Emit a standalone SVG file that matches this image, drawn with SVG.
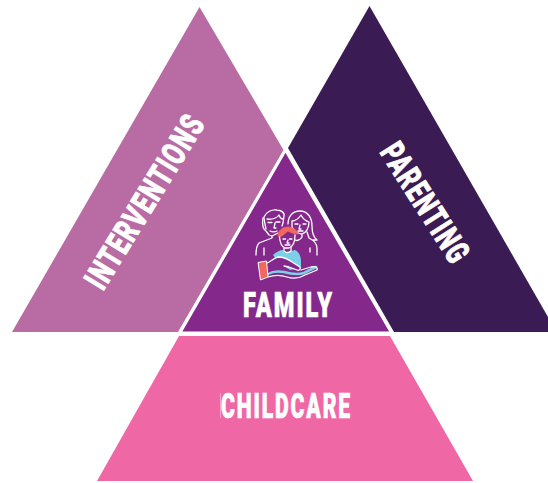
<svg xmlns="http://www.w3.org/2000/svg" width="548" height="483" viewBox="0 0 548 483">
<style>
.lab{font-family:"Roboto","Liberation Sans",Arial,sans-serif;font-weight:900;fill:#fff;stroke:#fff;stroke-width:.7}
.ic{fill:none;stroke:#fff;stroke-width:1.3;stroke-linecap:round;stroke-linejoin:round}
</style>
<rect width="548" height="483" fill="#fff"/>
<g id="connectors"/>
<g id="interventions">
<polygon points="199.500,7 12,332 178,332 283.500,150" fill="#b86ca3"/>
<text class="lab" transform="translate(103,292) rotate(-58.500)" font-size="34" letter-spacing="2" textLength="198" lengthAdjust="spacingAndGlyphs">INTERVENTIONS</text>
</g>
<g id="parenting">
<polygon points="369.500,6 288,148 394,332 548,332 548,317" fill="#3b1b54"/>
<text class="lab" transform="translate(379,152) rotate(57.500)" font-size="34" letter-spacing="2" textLength="136" lengthAdjust="spacingAndGlyphs">PARENTING</text>
</g>
<g id="childcare">
<polygon points="179,336 390,336 473,481 97,481" fill="#f067a6"/>
<path d="M220.500 393V418" stroke="#fff" stroke-opacity=".7" stroke-width=".6" fill="none"/>
<text class="lab" x="221" y="418" font-size="35" letter-spacing="3" textLength="131" lengthAdjust="spacingAndGlyphs">CHILDCARE</text>
</g>
<g id="family">
<polygon points="285.500,150 180,332.800 391.500,332.800" fill="#85288c" stroke="#fff" stroke-width="2.800"/>
<g id="family-icon">
<path d="M273 255C276 252 280 250 283 250L286 252L291 251L295 250C299 252 301 256 301 262L301 268L290 270L278 262Z" fill="#7bd0e8"/>
<path d="M263 218C262 224 263 229 266 231L269 235L272 236V238L259 243C257 245 256 250 256 255M264 248V255" class="ic"/>
<path d="M266 229C265 224 264 220 264 217C266 212 272 209 277 210C281 210 285 213 284 216L283 223L282 226M267 219C272 220 277 218 279 215C280 218 282 219 283 219M268 222.500H272M276 222H280M275 223L274 228H276M270 231C272 232 275 232 277 231M272 236C274 235 276 234 278 233" class="ic"/>
<path d="M288 224C288 216 293 211 300 211C308 211 312 218 312 226C312 232 313 237 317 240L313 240M292 221C295 221 299 218 301 215C303 219 306 221 309 222C309 228 306 233 302 234C298 234 294 230 292 227V221ZM295 224H298M303 224H306M300 225L299 229H301M298 231H303M302 234V237C300 240 297 241 295 240M307 232L309 238C313 240 317 243 317 248V255M310 248V252" class="ic"/>
<path d="M278 236C278 231 282 227 288 227C293 227 297 230 298 234C294 234 290 232 288 231C285 233 283 236 279.500 237Z" fill="#f0695e" stroke="#f0695e" stroke-width=".8"/>
<path d="M279.500 237C280 243 282 247 285 248H289C292 247 295 243 295 235M283 239H285.500M289.500 239H292M288 240L287 243H289M285 245H290M284 248V251C286 253 289 253 291 251V247" class="ic"/>
<path d="M267 263C270 262 274 258 278 257C283 257 288 259 292 262L300 267C301 269 299 271 297 270L289 267L284 266" fill="#85288c" stroke="#fff" stroke-width="1.300" stroke-linecap="round" stroke-linejoin="round"/>
<path d="M268 274C273 271 278 271 284 272C291 274 298 275 304 273L316 267" fill="none" stroke="#7bd0e8" stroke-width="2.600" stroke-linecap="round"/>
<path d="M268 277C274 275 281 275 287 277C293 279 300 278 305 275L317 270C318 267 315 266 311 267L301 270" class="ic"/>
<polygon points="258,262.500 266.500,261 268,277 260.500,280" fill="#f0695e" stroke="#fff" stroke-width="1"/>
</g>
<text class="lab" x="243" y="317" font-size="35" letter-spacing="3" textLength="91" lengthAdjust="spacingAndGlyphs">FAMILY</text>
</g>
</svg>
